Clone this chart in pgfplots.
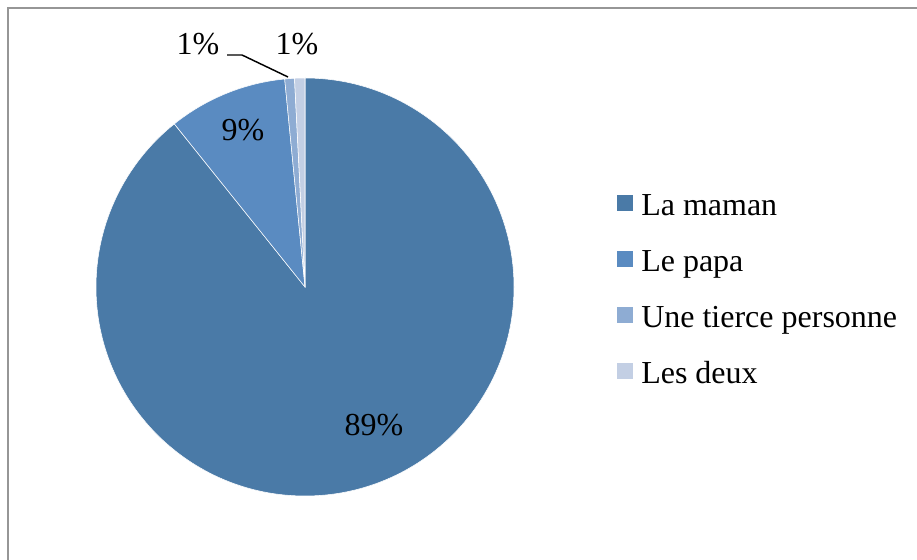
\documentclass[border=0pt]{standalone}
\usepackage{pgfplots}
\pgfplotsset{compat=1.18}
\usepackage{fontspec}
\setmainfont{Liberation Serif}
\definecolor{cMaman}{RGB}{74,122,167}
\definecolor{cPapa}{RGB}{90,139,193}
\definecolor{cTierce}{RGB}{142,172,211}
\definecolor{cDeux}{RGB}{195,207,228}
\definecolor{cFrame}{RGB}{150,150,150}
% values in percent
\def\vMaman{89.25}
\def\vPapa{9.2}
\def\vTierce{0.75}
\def\vDeux{0.8}
\begin{document}
\begin{tikzpicture}
\begin{axis}[
  x=0.75pt, y=0.75pt,
  xmin=0, xmax=917, ymin=0, ymax=560,
  hide axis, enlargelimits=false,
  font=\fontsize{24}{28}\selectfont,
]
\path (axis cs:0,0) rectangle (axis cs:917,560);
% frame
\draw[cFrame, line width=1.6pt] (axis cs:8,-5) -- (axis cs:8,552) -- (axis cs:925,552);
% pie slices (clockwise from 12 o'clock)
\def\R{156.75pt}
\fill[cMaman, draw=white, line width=0.4pt] (axis cs:305,273) -- ++(90:\R)
  arc[start angle=90, delta angle={-3.6*\vMaman}, radius=\R] -- cycle;
\fill[cPapa, draw=white, line width=0.4pt] (axis cs:305,273) -- ++({90-3.6*\vMaman}:\R)
  arc[start angle={90-3.6*\vMaman}, delta angle={-3.6*\vPapa}, radius=\R] -- cycle;
\fill[cTierce, draw=white, line width=0.4pt] (axis cs:305,273) -- ++({90-3.6*(\vMaman+\vPapa)}:\R)
  arc[start angle={90-3.6*(\vMaman+\vPapa)}, delta angle={-3.6*\vTierce}, radius=\R] -- cycle;
\fill[cDeux, draw=white, line width=0.4pt] (axis cs:305,273) -- ++({90-3.6*(\vMaman+\vPapa+\vTierce)}:\R)
  arc[start angle={90-3.6*(\vMaman+\vPapa+\vTierce)}, delta angle={-3.6*\vDeux}, radius=\R] -- cycle;
% data labels
\node[anchor=base] at (axis cs:374,124) {89\%};
\node[anchor=base] at (axis cs:243,419) {9\%};
\node[anchor=base] at (axis cs:198,505.5) {1\%};
\node[anchor=base] at (axis cs:297,505.5) {1\%};
\draw[black, line width=1.1pt] (axis cs:227,505) -- (axis cs:242,505) -- (axis cs:288,483);
% legend
\fill[cMaman] (axis cs:617,349) rectangle (axis cs:633,365);
\fill[cPapa]  (axis cs:617,293) rectangle (axis cs:633,309);
\fill[cTierce] (axis cs:617,237) rectangle (axis cs:633,253);
\fill[cDeux]  (axis cs:617,181) rectangle (axis cs:633,197);
\node[anchor=base west, inner sep=0pt] at (axis cs:641,344) {La maman};
\node[anchor=base west, inner sep=0pt] at (axis cs:641,288) {Le papa};
\node[anchor=base west, inner sep=0pt] at (axis cs:641,232) {Une tierce personne};
\node[anchor=base west, inner sep=0pt] at (axis cs:641,176) {Les deux};
\end{axis}
\end{tikzpicture}
\end{document}
